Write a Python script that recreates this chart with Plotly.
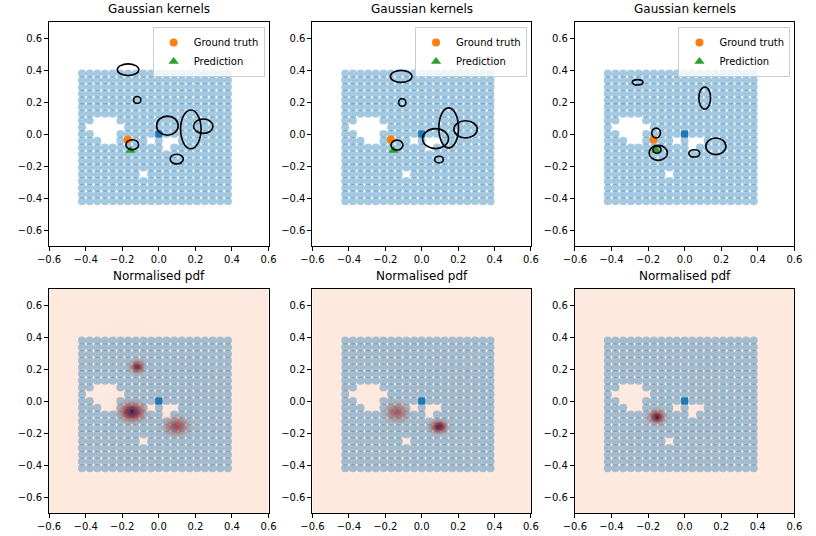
import numpy as np
import plotly.graph_objects as go

# ---------------- data ----------------
grid_x = [-0.42, -0.378, -0.336, -0.294, -0.252, -0.21, -0.168, -0.126, -0.084, -0.042,
          0.0, 0.042, 0.084, 0.126, 0.168, 0.21, 0.252, 0.294, 0.336, 0.378]
grid_y = [-0.42, -0.378, -0.336, -0.294, -0.252, -0.21, -0.168, -0.126, -0.084, -0.042,
          0.0, 0.042, 0.084, 0.126, 0.168, 0.21, 0.252, 0.294, 0.336, 0.378]
# missing grid cells (column index, row index)
holes = [(2, 12), (3, 12), (4, 12),
         (1, 11), (2, 11), (3, 11), (4, 11), (5, 11),
         (2, 10), (3, 10), (4, 10),
         (3, 9), (4, 9),
         (9, 9), (11, 9), (12, 9), (11, 8),
         (8, 4)]

origin_x = [0.0]
origin_y = [0.0]
truth_x = [-0.17]
truth_y = [-0.034]
pred_x = [-0.155]
pred_y = [-0.103]

# Gaussian kernels per panel: centres, ellipse half-widths, mixture weights
kern_cx = [[-0.168, -0.118, 0.047, 0.175, 0.243, -0.145, 0.098],
           [-0.113, -0.107, 0.076, 0.148, 0.241, -0.136, 0.095],
           [-0.257, 0.110, -0.156, -0.144, -0.151, 0.053, 0.171]]
kern_cy = [[0.402, 0.213, 0.052, 0.029, 0.049, -0.067, -0.157],
           [0.360, 0.197, -0.029, 0.038, 0.029, -0.069, -0.160],
           [0.323, 0.225, 0.006, -0.118, -0.098, -0.121, -0.077]]
kern_rx = [[0.059, 0.020, 0.059, 0.056, 0.053, 0.035, 0.036],
           [0.059, 0.020, 0.071, 0.054, 0.064, 0.033, 0.024],
           [0.029, 0.032, 0.024, 0.050, 0.022, 0.030, 0.055]]
kern_ry = [[0.036, 0.021, 0.060, 0.121, 0.045, 0.031, 0.030],
           [0.0375, 0.024, 0.0625, 0.125, 0.054, 0.031, 0.021],
           [0.017, 0.069, 0.031, 0.047, 0.022, 0.023, 0.052]]
kern_w = [[0.01, 0.15, 0.01, 0.01, 0.01, 0.45, 0.28],
          [0.005, 0.005, 0.01, 0.01, 0.01, 0.40, 0.35],
          [0.002, 0.005, 0.005, 0.02, 0.50, 0.005, 0.01]]
SIGMA_SCALE = 1.15

titles_top = ["Gaussian kernels"] * 3
titles_bottom = ["Normalised pdf"] * 3
tick_vals = [-0.6, -0.4, -0.2, 0.0, 0.2, 0.4, 0.6]
tick_text = ["\u22120.6", "\u22120.4", "\u22120.2", "0.0", "0.2", "0.4", "0.6"]

reds = [[0.0, "rgb(255,245,240)"], [0.125, "rgb(254,224,210)"], [0.25, "rgb(252,187,161)"],
        [0.375, "rgb(252,146,114)"], [0.5, "rgb(251,106,74)"], [0.625, "rgb(239,59,44)"],
        [0.75, "rgb(203,24,29)"], [0.875, "rgb(165,15,21)"], [1.0, "rgb(103,0,13)"]]

# ---------------- layout geometry ----------------
W, H = 816, 536
col_px = [(38, 263), (308, 532), (577, 802)]
row_px = [(22, 246), (289, 513)]

hole_set = set(holes)
pts_x = [grid_x[i] for i in range(len(grid_x)) for j in range(len(grid_y)) if (i, j) not in hole_set]
pts_y = [grid_y[j] for i in range(len(grid_x)) for j in range(len(grid_y)) if (i, j) not in hole_set]

fig = go.Figure()
FONT = "DejaVu Sans"
BLUE = "#1f77b4"

hx = np.linspace(-0.6, 0.6, 241)
hy = np.linspace(-0.7, 0.7, 281)
HX, HY = np.meshgrid(hx, hy)

annotations = []
shapes = []
for r in range(2):
    for c in range(3):
        k = r * 3 + c + 1
        xa = "x" if k == 1 else f"x{k}"
        ya = "y" if k == 1 else f"y{k}"
        x0p, x1p = col_px[c]
        y0p, y1p = row_px[r]
        fig.update_layout(**{
            ("xaxis" if k == 1 else f"xaxis{k}"): dict(
                domain=[x0p / W, x1p / W], anchor=ya, range=[-0.6, 0.6],
                tickvals=tick_vals, ticktext=tick_text, ticks="outside", ticklen=4,
                tickwidth=1, tickcolor="black", showline=True, mirror=True,
                linecolor="black", linewidth=1, showgrid=False, zeroline=False,
                tickfont=dict(family=FONT, size=10, color="black"), fixedrange=True),
            ("yaxis" if k == 1 else f"yaxis{k}"): dict(
                domain=[1 - y1p / H, 1 - y0p / H], anchor=xa, range=[-0.7, 0.7],
                tickvals=tick_vals, ticktext=tick_text, ticks="outside", ticklen=4,
                tickwidth=1, tickcolor="black", showline=True, mirror=True,
                linecolor="black", linewidth=1, showgrid=False, zeroline=False,
                tickfont=dict(family=FONT, size=10, color="black"), fixedrange=True),
        })
        title = titles_top[c] if r == 0 else titles_bottom[c]
        annotations.append(dict(text=title, xref="paper", yref="paper",
                                x=(x0p + x1p) / 2 / W, y=1 - (y0p - 4) / H,
                                xanchor="center", yanchor="bottom", showarrow=False,
                                font=dict(family=FONT, size=12, color="black")))
        if r == 1:
            z = np.zeros_like(HX)
            for cx, cy, rx, ry, w in zip(kern_cx[c], kern_cy[c], kern_rx[c], kern_ry[c], kern_w[c]):
                sx, sy = rx * SIGMA_SCALE, ry * SIGMA_SCALE
                z += w / (2 * np.pi * sx * sy) * np.exp(-0.5 * (((HX - cx) / sx) ** 2 + ((HY - cy) / sy) ** 2))
            z = z / z.max()
            fig.add_trace(go.Heatmap(x=hx, y=hy, z=z, colorscale=reds, zmin=-0.08, zmax=1.0,
                                     showscale=False, hoverinfo="skip", xaxis=xa, yaxis=ya))
        fig.add_trace(go.Scatter(x=pts_x, y=pts_y, mode="markers", xaxis=xa, yaxis=ya,
                                 marker=dict(size=8, color=BLUE, opacity=0.4, line=dict(width=0)),
                                 showlegend=False, hoverinfo="skip"))
        fig.add_trace(go.Scatter(x=origin_x, y=origin_y, mode="markers", xaxis=xa, yaxis=ya,
                                 marker=dict(size=7, color=BLUE, symbol="square", line=dict(width=0)),
                                 showlegend=False, hoverinfo="skip"))
        if r == 0:
            leg = "legend" if c == 0 else f"legend{c + 1}"
            fig.add_trace(go.Scatter(x=truth_x, y=truth_y, mode="markers", name="Ground truth",
                                     xaxis=xa, yaxis=ya, legend=leg,
                                     marker=dict(size=8, color="#ff7f0e", line=dict(width=0))))
            fig.add_trace(go.Scatter(x=pred_x, y=pred_y, mode="markers", name="Prediction",
                                     xaxis=xa, yaxis=ya, legend=leg,
                                     marker=dict(size=9, color="#2ca02c", symbol="triangle-up",
                                                 line=dict(width=0))))
            for cx, cy, rx, ry in zip(kern_cx[c], kern_cy[c], kern_rx[c], kern_ry[c]):
                shapes.append(dict(type="circle", xref=xa, yref=ya,
                                   x0=cx - rx, x1=cx + rx, y0=cy - ry, y1=cy + ry,
                                   line=dict(color="black", width=1.6)))
            fig.update_layout(**{leg: dict(
                x=(x1p - 4) / W, y=1 - (y0p + 5) / H, xanchor="right", yanchor="top",
                bgcolor="rgba(255,255,255,0.8)", bordercolor="#cccccc", borderwidth=1,
                font=dict(family=FONT, size=10, color="black"), tracegroupgap=0,
                itemwidth=30)})

fig.update_layout(width=W, height=H, margin=dict(l=0, r=0, t=0, b=0),
                  paper_bgcolor="white", plot_bgcolor="white",
                  annotations=annotations, shapes=shapes, showlegend=True,
                  font=dict(family=FONT, size=10, color="black"))
fig.write_html("out.html", config={"displayModeBar": False},
               post_script="document.body.style.margin='0';document.body.style.overflow='hidden';")
